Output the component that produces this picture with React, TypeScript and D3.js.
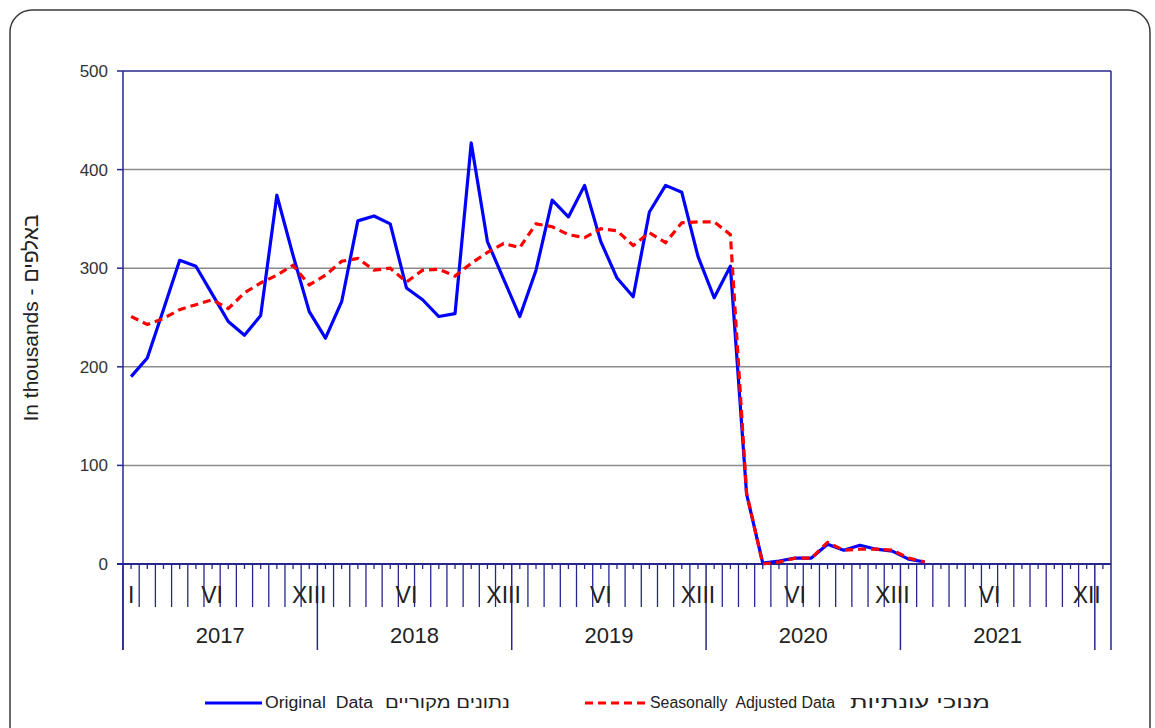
import React from "react";
import * as d3 from "d3";

// chart data: monthly values, thousands, Jan 2017 - Feb 2021
const years = ["2017", "2018", "2019", "2020", "2021"];
const monthTickIndex = [0, 5, 11, 17, 23, 29, 35, 41, 47, 53, 59];
const monthTickText = ["I", "VI", "XIII", "VI", "XIII", "VI", "XIII", "VI", "XIII", "VI", "XII"];
const yTicks = [0, 100, 200, 300, 400, 500];

const original = [
  190, 209, 258, 308, 302, 274, 246, 232, 252, 374, 313, 256,
  229, 266, 348, 353, 345, 280, 268, 251, 254, 427, 327, 289,
  251, 298, 369, 352, 384, 327, 290, 271, 357, 384, 377, 312,
  270, 302, 71, 1, 3, 6, 6, 20, 14, 19, 15, 13,
  5, 2,
];
const seasonallyAdjusted = [
  251, 243, 249, 258, 263, 268, 259, 275, 285, 293, 303, 283,
  293, 307, 310, 298, 300, 286, 298, 299, 292, 305, 316, 325,
  321, 345, 342, 334, 331, 340, 338, 323, 336, 326, 346, 347,
  347, 334, 72, 0, 2, 6, 6, 22, 14, 15, 15, 14,
  6, 2,
];

const W = 1155;
const H = 728;
const left = 123;
const right = 1111;
const top = 71;
const bottom = 564;
const nCats = 61; // Jan 2017 .. Jan 2022
const navy = "#26268f";
const font = "'Liberation Sans', Arial, sans-serif";

export default function App() {
  const cats = d3.range(nCats);
  const x = d3.scaleBand<number>().domain(cats).range([left, right]);
  const y = d3.scaleLinear().domain([0, 500]).range([bottom, top]);
  const cx = (i: number) => (x(i) as number) + x.bandwidth() / 2;
  const edge = (k: number) => (k >= nCats ? right : (x(k) as number));

  const line = d3
    .line<number>()
    .x((d, i) => cx(i))
    .y((d) => y(d));

  const boundaries = d3.range(1, nCats).filter((k) => k % 12 !== 0);
  const dividers = d3.range(0, years.length + 1).map((k) => edge(k * 12));

  return (
    <svg
      width={W}
      height={H}
      style={{ position: "absolute", left: 0, top: 0, background: "#fff" }}
      fontFamily={font}
    >
      <rect x={10} y={10} width={1140} height={740} rx={22} fill="#fff" stroke="#3a3a3a" strokeWidth={1.5} />

      {/* grid */}
      {yTicks.filter((t) => t > 0 && t < 500).map((t) => (
        <line key={t} x1={left} x2={right} y1={y(t)} y2={y(t)} stroke="#8c8c8c" strokeWidth={1.5} />
      ))}

      {/* plot frame */}
      <line x1={left} x2={right} y1={top} y2={top} stroke={navy} strokeWidth={1.5} />
      <line x1={right} x2={right} y1={top} y2={650} stroke={navy} strokeWidth={1.5} />
      <line x1={left} x2={left} y1={top} y2={650} stroke={navy} strokeWidth={1.5} />
      <line x1={117} x2={right} y1={bottom} y2={bottom} stroke={navy} strokeWidth={2} />

      {/* y axis */}
      {yTicks.map((t) => (
        <g key={t}>
          <line x1={117} x2={left} y1={y(t)} y2={y(t)} stroke={navy} strokeWidth={1.5} />
          <text x={108} y={y(t) + 6} textAnchor="end" fontSize={17} fill="#333">
            {t}
          </text>
        </g>
      ))}
      <text
        transform={`translate(38, 318) rotate(-90)`}
        textAnchor="middle"
        fontSize={21}
        fill="#222"
      >
        In thousands - באלפים
      </text>

      {/* x axis ticks */}
      {cats.map((i) => (
        <line key={"s" + i} x1={cx(i)} x2={cx(i)} y1={bottom} y2={bottom + 5} stroke={navy} strokeWidth={1.3} />
      ))}
      {boundaries.map((k) => (
        <line key={"b" + k} x1={edge(k)} x2={edge(k)} y1={bottom} y2={607} stroke={navy} strokeWidth={1.3} />
      ))}
      {dividers.map((d, k) => (
        <line key={"d" + k} x1={d} x2={d} y1={bottom} y2={650} stroke={navy} strokeWidth={1.5} />
      ))}
      {monthTickIndex.map((m, k) => (
        <text key={"m" + k} x={cx(m)} y={603} textAnchor="middle" fontSize={23} fill="#222">
          {monthTickText[k]}
        </text>
      ))}
      {years.map((yr, k) => (
        <text key={yr} x={(dividers[k] + dividers[k + 1]) / 2} y={643} textAnchor="middle" fontSize={22} fill="#222">
          {yr}
        </text>
      ))}

      {/* series */}
      <path d={line(original) as string} fill="none" stroke="#0000ff" strokeWidth={3.2} strokeLinejoin="round" />
      <path
        d={line(seasonallyAdjusted) as string}
        fill="none"
        stroke="#ff0000"
        strokeWidth={3.2}
        strokeDasharray="8,5"
      />

      {/* legend */}
      <line x1={205} x2={262} y1={703} y2={703} stroke="#0000ff" strokeWidth={3} />
      <text x={265} y={708} fontSize={16} fill="#222" textLength={108} lengthAdjust="spacingAndGlyphs">Original&#160; Data</text>
      <text x={385} y={708} fontSize={16} fill="#222" textLength={125} lengthAdjust="spacingAndGlyphs">נתונים מקוריים</text>
      <line x1={585} x2={645} y1={703} y2={703} stroke="#ff0000" strokeWidth={3} strokeDasharray="8,5" />
      <text x={650} y={708} fontSize={16} fill="#222" textLength={185} lengthAdjust="spacingAndGlyphs">Seasonally&#160; Adjusted Data</text>
      <text x={850} y={708} fontSize={16} fill="#222" textLength={140} lengthAdjust="spacingAndGlyphs">מנוכי עונתיות</text>
    </svg>
  );
}
